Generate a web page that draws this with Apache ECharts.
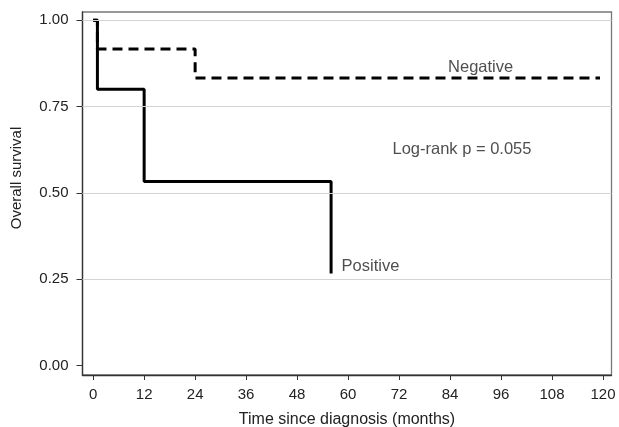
<!DOCTYPE html>
<html>
<head>
<meta charset="utf-8">
<script src="https://cdn.jsdelivr.net/npm/echarts@6/dist/echarts.min.js"></script>
<style>html,body{margin:0;padding:0;background:#fff}#c{width:619px;height:427px}</style>
</head>
<body>
<div id="c"></div>
<script>
var xTicks = [0, 12, 24, 36, 48, 60, 72, 84, 96, 108, 120];
var yTicks = [0, 0.25, 0.5, 0.75, 1.0];
var gridLines = [0.25, 0.5, 0.75, 1.0];
var positiveTime = [0, 1, 1, 12, 12, 56, 56];
var positiveSurv = [1.0, 1.0, 0.8, 0.8, 0.533, 0.533, 0.267];
var negativeTime = [0, 1, 1, 24, 24, 119.3];
var negativeSurv = [1.0, 1.0, 0.917, 0.917, 0.833, 0.833];
var labels = [
  {text: 'Negative', x: 91.2, y: 0.862},
  {text: 'Log-rank p = 0.055', x: 86.8, y: 0.627},
  {text: 'Positive', x: 58.7, y: 0.286, left: true}
];
var yTitle = 'Overall survival';
var xTitle = 'Time since diagnosis (months)';

function pairs(t, s) { return t.map(function (v, i) { return [v, s[i]]; }); }

var font = 'Liberation Sans, Arial, sans-serif';
var chart = echarts.init(document.getElementById('c'), null, {renderer: 'canvas'});
chart.setOption({
  animation: false,
  backgroundColor: '#fff',
  grid: {left: 82.5, right: 7.5, top: 12, bottom: 52, containLabel: false, outerBoundsMode: 'none'},
  xAxis: {
    type: 'value', min: -2.51, max: 122.0,
    name: xTitle, nameLocation: 'middle', nameGap: 37,
    nameTextStyle: {fontFamily: font, fontSize: 16, color: '#222'},
    axisLine: {show: true, onZero: false, lineStyle: {color: '#333', width: 1.3}},
    axisTick: {show: true, length: 5, lineStyle: {color: '#333'}, customValues: xTicks},
    axisLabel: {fontFamily: font, fontSize: 15, color: '#222', margin: 12, customValues: xTicks,
      formatter: function (v) { return String(v); }},
    splitLine: {show: false}
  },
  yAxis: {
    type: 'value', min: -0.027, max: 1.024,
    axisLine: {show: true, onZero: false, lineStyle: {color: '#333', width: 1.3}},
    axisTick: {show: true, length: 6, lineStyle: {color: '#333'}, customValues: yTicks},
    axisLabel: {fontFamily: font, fontSize: 15, color: '#222', margin: 14, customValues: yTicks,
      formatter: function (v) { return v.toFixed(2); }},
    splitLine: {show: false}
  },
  graphic: [{
    type: 'rect', z: 0, silent: true,
    shape: {x: 82.5, y: 12, width: 529, height: 363},
    style: {fill: 'none', stroke: '#777', lineWidth: 1.3}
  }, {
    type: 'text', x: 17, y: 178, rotation: Math.PI / 2, silent: true,
    style: {text: yTitle, fontFamily: font, fontSize: 15, fill: '#222',
      align: 'center', verticalAlign: 'middle'}
  }],
  series: [
    {
      type: 'line', name: 'grid', data: [], silent: true,
      markLine: {
        silent: true, symbol: ['none', 'none'], label: {show: false},
        lineStyle: {color: '#d4d4d4', type: 'solid', width: 1},
        data: gridLines.map(function (v) { return {yAxis: v}; })
      }
    },
    {
      type: 'line', name: 'Negative', data: pairs(negativeTime, negativeSurv),
      showSymbol: false, z: 3,
      lineStyle: {color: '#000', width: 3, type: [10, 6]}
    },
    {
      type: 'line', name: 'Positive', data: pairs(positiveTime, positiveSurv),
      showSymbol: false, z: 4,
      lineStyle: {color: '#000', width: 3, type: 'solid'}
    },
    {
      type: 'scatter', name: 'labels', symbolSize: 0, z: 5,
      data: labels.map(function (l) {
        return {value: [l.x, l.y], label: {show: true, formatter: l.text,
          position: l.left ? 'right' : 'inside', offset: l.left ? [-6, 0] : [0, 0],
          fontFamily: font, fontSize: 16.5, color: '#222'}};
      })
    }
  ]
});
</script>
</body>
</html>
